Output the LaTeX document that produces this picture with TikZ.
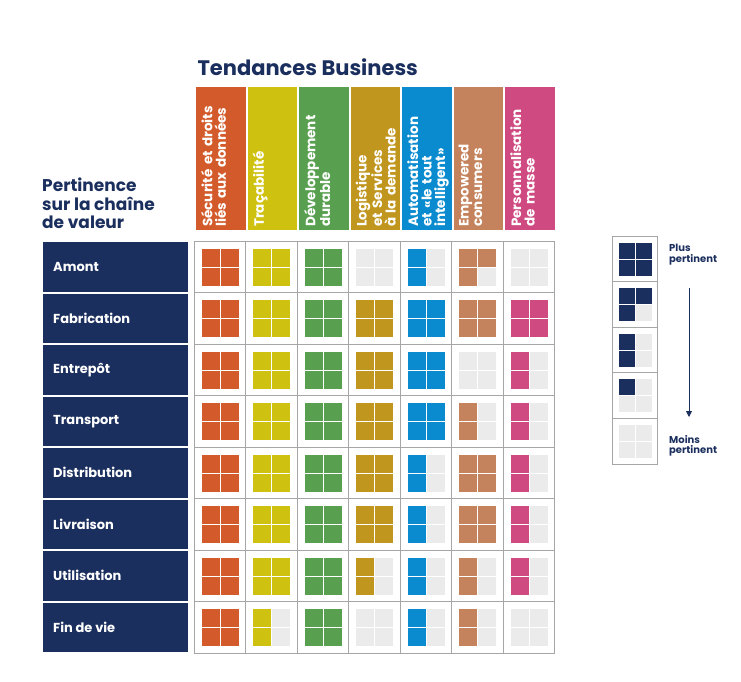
\documentclass[tikz,border=0pt]{standalone}
\usepackage{fontspec}
\setmainfont{Poppins}
\usetikzlibrary{arrows.meta,positioning}
\definecolor{navy}{HTML}{1B2F5E}
\definecolor{cA}{HTML}{D35A2A}
\definecolor{cB}{HTML}{CFC10F}
\definecolor{cC}{HTML}{58A04F}
\definecolor{cD}{HTML}{C0961E}
\definecolor{cE}{HTML}{0A8BCF}
\definecolor{cF}{HTML}{C4835C}
\definecolor{cG}{HTML}{CF4A81}
\definecolor{empty}{HTML}{EBEBEB}
\tikzset{
  head/.style = {fill=#1, text=white, font=\bfseries\fontsize{13.5}{13.5}\selectfont,
                 rotate=90, anchor=north west, align=left, inner sep=0pt},
  rowlab/.style = {fill=navy, text=white, font=\bfseries\fontsize{13}{13}\selectfont,
                   anchor=west, inner sep=0pt},
  frame/.style = {draw=gray!70, line width=0.8pt}
}
% quarter squares: x, y, half size, colour, level (0-4)
\newcommand\levelsq[5]{%
  \foreach \qx/\qy/\ql in {0/0/1,1/0/3,0/1/2,1/1/4}{%
    \pgfmathsetmacro\qfill{\ql<=#5 ? 1 : 0}%
    \ifdim\qfill pt>0.5pt \def\qcol{#4}\else\def\qcol{empty}\fi
    \fill[\qcol] ({#1+\qx*#3+0.5},{#2+\qy*#3+0.5}) rectangle ++(#3-1,#3-1);
  }}
\begin{document}
\begin{tikzpicture}[x=1pt, y=-1pt]
  \useasboundingbox[fill=white] (0,0) rectangle (741,682);
  % titles
  \node (title) [anchor=west, text=navy, font=\bfseries\fontsize{21}{21}\selectfont]
      at (194,67) {Tendances Business};
  \node (pert) [anchor=south west, text=navy, align=left, inner sep=0pt,
      font=\bfseries\fontsize{17}{18.5}\selectfont] at (42,229)
      {Pertinence\\sur la chaîne\\de valeur};
  % column headers
  \foreach \c/\t [count=\i from 0] in
    {cA/{Sécurité et droits\\liés aux données}, cB/{Traçabilité},
     cC/{Développement\\durable}, cD/{Logistique\\et Services\\à la demande},
     cE/{Automatisation\\et «le tout\\intelligent»}, cF/{Empowered\\consumers},
     cG/{Personnalisation\\de masse}}{
    \fill[\c] ({196+\i*51.5},87) rectangle ++(49.5,143);
    \node (h\i) [head=\c, text width=135pt] at ({201+\i*51.5},227) {\t};
  }
  % row labels
  \foreach \r [count=\j from 0] in
    {Amont, Fabrication, Entrepôt, Transport, Distribution, Livraison, Utilisation, Fin de vie}{
    \fill[navy] (43,{241+\j*51.5+1}) rectangle (188,{241+(\j+1)*51.5-1});
    \node (r\j) [rowlab] at (53,{241+\j*51.5+25.75}) {\r};
  }
  % grid
  \foreach \i in {0,...,7} \draw[frame] ({194+\i*51.5},241) -- ({194+\i*51.5},653);
  \foreach \j in {0,...,8} \draw[frame] (194,{241+\j*51.5}) -- (554.5,{241+\j*51.5});
  % levels
  \foreach \lv [count=\j from 0] in
    {{4,4,4,0,2,3,0},{4,4,4,4,4,4,4},{4,4,4,4,4,0,2},{4,4,4,4,4,2,2},
     {4,4,4,4,2,4,2},{4,4,4,4,2,4,2},{4,4,4,2,2,2,2},{4,2,4,0,2,2,0}}{
    \foreach \c [count=\i from 0] in {cA,cB,cC,cD,cE,cF,cG}{
      \pgfmathtruncatemacro\v{{\lv}[\i]}
      \levelsq{201+\i*51.5}{248+\j*51.5}{19}{\c}{\v}
    }
  }
  % legend
  \foreach \k in {0,...,4}{
    \draw[frame] (612,{236+\k*45.6}) rectangle ++(45,45.6);
    \pgfmathtruncatemacro\lvl{4-\k}
    \levelsq{618}{242+\k*45.6}{17}{navy}{\lvl}
  }
  \node (plus) [anchor=north west, align=left, text=navy, inner sep=0pt,
      font=\bfseries\fontsize{10}{10.5}\selectfont] at (669,244) {Plus\\pertinent};
  \node (moins) [anchor=north west, align=left, text=navy, inner sep=0pt,
      font=\bfseries\fontsize{10}{10.5}\selectfont] at (669,435) {Moins\\pertinent};
  \coordinate (atop) at (689,288);
  \coordinate (abot) at (689,417);
  \draw[navy, line width=0.8pt, -{Triangle[length=6pt,width=6pt]}] (atop) -- (abot);
\end{tikzpicture}
\end{document}
